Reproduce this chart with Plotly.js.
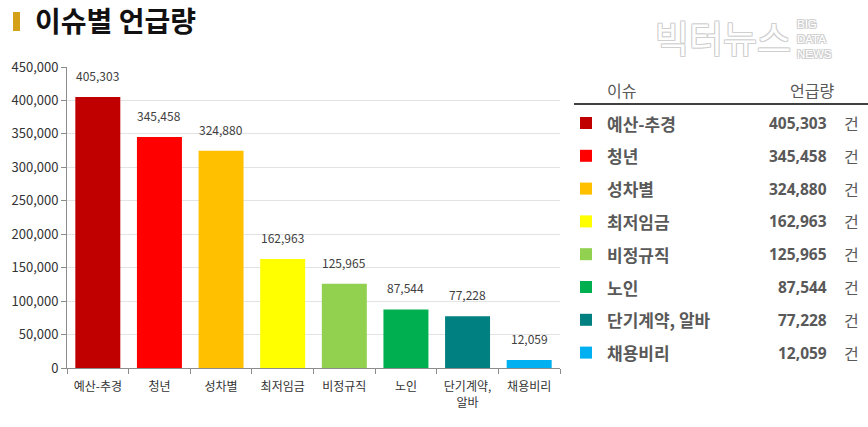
<!DOCTYPE html>
<html>
<head>
<meta charset="utf-8">
<script src="https://cdn.plot.ly/plotly-3.0.1.min.js"></script>
<style>html,body{margin:0;padding:0;background:#fff;}#chart{width:868px;height:427px;}</style>
</head>
<body>
<div id="chart"></div>
<script>
// ---- data ----
const categories = ['예산-추경', '청년', '성차별', '최저임금', '비정규직', '노인', '단기계약, 알바', '채용비리'];
const tickLabels = ['예산-추경', '청년', '성차별', '최저임금', '비정규직', '노인', '단기계약,<br>알바', '채용비리'];
const values = [405303, 345458, 324880, 162963, 125965, 87544, 77228, 12059];
const colors = ['#C00000', '#FF0000', '#FFC000', '#FFFF00', '#92D050', '#00B050', '#008080', '#00B0F0'];
const unit = '건';
const tableHeader = ['이슈', '언급량'];

// ---- layout helpers (pixel -> paper) ----
const M = {l: 67, r: 308, t: 67, b: 59};
const PW = 868 - M.l - M.r, PH = 427 - M.t - M.b;
const PX = x => (x - M.l) / PW;
const PY = y => (427 - M.b - y) / PH;
const fmt = v => v.toLocaleString('en-US');
const FONT = 'Noto Sans CJK KR, Noto Sans, sans-serif';
const NUMFONT = 'Open Sans, Noto Sans, sans-serif';

const trace = {
  type: 'bar',
  x: categories,
  y: values,
  marker: {color: colors, line: {width: 0}},
  hoverinfo: 'none'
};

const annotations = [];
const shapes = [];

// value labels above bars
categories.forEach((c, i) => {
  annotations.push({
    xref: 'x', yref: 'y', x: c, y: values[i], text: fmt(values[i]),
    showarrow: false, yanchor: 'bottom', yshift: 11,
    font: {family: FONT, size: 12, color: '#404040'}
  });
});

// title marker
shapes.push({type: 'rect', xref: 'paper', yref: 'paper', x0: PX(13), x1: PX(20), y0: PY(31), y1: PY(12),
  fillcolor: '#D4A017', line: {width: 0}});

// watermark
const wmShadow = '1px 1px 0 #cfcfcf, -1px -1px 0 #cfcfcf, 1px -1px 0 #cfcfcf, -1px 1px 0 #cfcfcf';
annotations.push({xref: 'paper', yref: 'paper', x: PX(653), y: PY(37), xanchor: 'left', yanchor: 'middle',
  text: '빅터뉴스', showarrow: false,
  font: {family: FONT, size: 37, color: '#ffffff', weight: 400, shadow: wmShadow}});
annotations.push({xref: 'paper', yref: 'paper', x: PX(795), y: PY(39), xanchor: 'left', yanchor: 'middle',
  text: 'BIG<br>DATA<br>NEWS', showarrow: false, align: 'left',
  font: {family: 'Liberation Sans, sans-serif', size: 11.5, color: '#ffffff', shadow: wmShadow}});

// table header
annotations.push({xref: 'paper', yref: 'paper', x: PX(605), y: PY(90), xanchor: 'left', yanchor: 'middle',
  text: tableHeader[0], showarrow: false, font: {family: FONT, size: 16, color: '#595959'}});
annotations.push({xref: 'paper', yref: 'paper', x: PX(836), y: PY(90), xanchor: 'right', yanchor: 'middle',
  text: tableHeader[1], showarrow: false, font: {family: FONT, size: 16, color: '#595959'}});
shapes.push({type: 'line', xref: 'paper', yref: 'paper', x0: PX(574), x1: PX(868), y0: PY(104), y1: PY(104),
  line: {color: '#000000', width: 1.5}});

// table rows
categories.forEach((c, i) => {
  const cy = 123 + i * 32.8;
  shapes.push({type: 'rect', xref: 'paper', yref: 'paper', x0: PX(580), x1: PX(592), y0: PY(cy + 6), y1: PY(cy - 6),
    fillcolor: colors[i], line: {width: 0}});
  annotations.push({xref: 'paper', yref: 'paper', x: PX(605), y: PY(cy), xanchor: 'left', yanchor: 'middle',
    text: c, showarrow: false, font: {family: FONT, size: 17, color: '#595959', weight: 700}});
  annotations.push({xref: 'paper', yref: 'paper', x: PX(829), y: PY(cy), xanchor: 'right', yanchor: 'middle',
    text: fmt(values[i]), showarrow: false, font: {family: NUMFONT, size: 15.5, color: '#595959', weight: 700}});
  annotations.push({xref: 'paper', yref: 'paper', x: PX(842), y: PY(cy), xanchor: 'left', yanchor: 'middle',
    text: unit, showarrow: false, font: {family: FONT, size: 16, color: '#595959'}});
});

const layout = {
  width: 868, height: 427,
  margin: M,
  paper_bgcolor: '#ffffff', plot_bgcolor: '#ffffff',
  showlegend: false,
  bargap: 0.27,
  title: {
    text: '<b>이슈별 언급량</b>', xref: 'container', yref: 'container',
    x: 35 / 868, xanchor: 'left', y: 1 - 22 / 427, yanchor: 'middle',
    font: {family: FONT, size: 28, color: '#111111'}
  },
  xaxis: {
    type: 'category',
    tickmode: 'array', tickvals: categories, ticktext: tickLabels,
    tickson: 'boundaries', ticks: 'outside', ticklen: 5, tickcolor: '#8c8c8c',
    ticklabelstandoff: 8,
    showline: true, linecolor: '#8c8c8c', linewidth: 1,
    showgrid: false, zeroline: false, fixedrange: true,
    tickfont: {family: FONT, size: 12, color: '#333333'}
  },
  yaxis: {
    range: [0, 450000], dtick: 50000, tickformat: ',',
    ticks: 'outside', ticklen: 5, tickcolor: '#8c8c8c',
    showline: true, linecolor: '#8c8c8c', linewidth: 1,
    showgrid: true, gridcolor: '#e3e3e3', gridwidth: 1,
    zeroline: false, fixedrange: true,
    tickfont: {family: FONT, size: 13, color: '#333333'}
  },
  annotations: annotations,
  shapes: shapes
};

Plotly.newPlot('chart', [trace], layout, {displayModeBar: false, staticPlot: true});
</script>
</body>
</html>
